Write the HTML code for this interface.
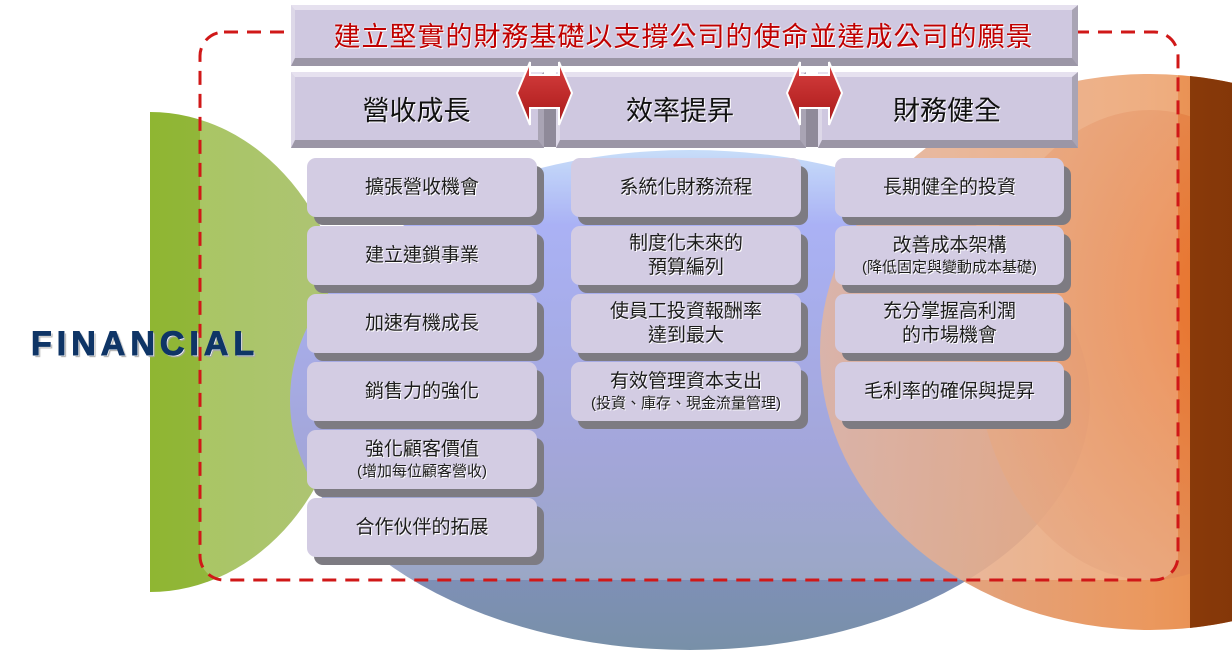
<!DOCTYPE html>
<html><head><meta charset="utf-8"><style>
html,body{margin:0;padding:0;width:1232px;height:654px;overflow:hidden;background:#fff}
body{position:relative;font-family:"Liberation Sans","Noto Sans CJK TC",sans-serif}
.bx{position:absolute;box-sizing:border-box;background:#d3cce3;border-radius:9px;box-shadow:7px 8px 0 #7d7b82;display:flex;flex-direction:column;align-items:center;justify-content:center;text-align:center;color:#1c1c1c;font-size:19px;line-height:24px;text-shadow:1px 1px 0 #fff}
.bx small{font-size:15px;line-height:19px}
.hd{position:absolute;box-sizing:border-box;background:#cfc8e0;border-top:5px solid #e6e1ef;border-bottom:8px solid #9b96a6;border-right:6px solid #a9a4b4;border-left:4px solid #ddd8e8;display:flex;align-items:center;justify-content:center;font-size:27px;color:#111;text-shadow:1px 1px 0 #fff}
</style></head><body>
<svg width="1232" height="654" style="position:absolute;left:0;top:0">
<defs>
<linearGradient id="g" x1="0" x2="1"><stop offset="0" stop-color="#86b814"/><stop offset="1" stop-color="#98b450"/></linearGradient>
<linearGradient id="b" x1="0" y1="0" x2="0" y2="1"><stop offset="0" stop-color="#b8d4f8"/><stop offset="0.15" stop-color="#929cf2"/><stop offset="0.6" stop-color="#8a8ed0"/><stop offset="1" stop-color="#7890a8"/></linearGradient>
<linearGradient id="o" x1="0" x2="1"><stop offset="0" stop-color="#d8a088"/><stop offset="0.5" stop-color="#e88a48"/><stop offset="0.8" stop-color="#e06a14"/><stop offset="1" stop-color="#8a3a08"/></linearGradient>
<radialGradient id="oi" cx="0.7" cy="0.4" r="0.7"><stop offset="0" stop-color="#e8661a"/><stop offset="1" stop-color="#e09060"/></radialGradient>
<linearGradient id="br" x1="0" x2="1"><stop offset="0" stop-color="#b05010"/><stop offset="1" stop-color="#6a2804"/></linearGradient>
<linearGradient id="a" x1="0" y1="0" x2="0" y2="1"><stop offset="0" stop-color="#d84040"/><stop offset="1" stop-color="#a81818"/></linearGradient>
<clipPath id="cl"><rect x="150" y="0" width="400" height="654"/></clipPath>
<clipPath id="cr"><rect x="1190" y="0" width="60" height="654"/></clipPath>
</defs>
<ellipse cx="150" cy="352" rx="200" ry="240" fill="url(#g)" clip-path="url(#cl)"/>
<ellipse cx="690" cy="400" rx="400" ry="250" fill="url(#b)"/>
<ellipse cx="1150" cy="352" rx="330" ry="278" fill="url(#o)" opacity="0.88"/>
<ellipse cx="1150" cy="345" rx="175" ry="235" fill="url(#oi)" opacity="0.7"/>
<ellipse cx="1150" cy="352" rx="330" ry="278" fill="url(#br)" clip-path="url(#cr)"/>
<rect x="200" y="32" width="978" height="548" rx="24" fill="#fff" opacity="0.22"/>
<rect x="200" y="32" width="978" height="548" rx="24" fill="none" stroke="#d01818" stroke-width="3" stroke-dasharray="14,9"/>
<rect x="544" y="100" width="12" height="47" fill="#8f8a99"/>
<rect x="806" y="100" width="12" height="47" fill="#8f8a99"/>
</svg>
<div class="hd" style="left:291px;top:5px;width:787px;height:61px;font-size:27px;color:#c00000;text-shadow:0 0 2px #fff,1px 1px 0 #fff;letter-spacing:1px">建立堅實的財務基礎以支撐公司的使命並達成公司的願景</div>
<div class="hd" style="left:291px;top:72px;width:253px;height:76px">營收成長</div>
<div class="hd" style="left:556px;top:72px;width:250px;height:76px">效率提昇</div>
<div class="hd" style="left:818px;top:72px;width:260px;height:76px">財務健全</div>
<svg width="1232" height="654" style="position:absolute;left:0;top:0">
<polygon points="517,93 530,62 530,75 559,75 559,62 572,93 559,125 559,108 530,108 530,125" fill="url(#a)" stroke="#fff" stroke-width="2"/>
<polygon points="787,93 800,62 800,75 829,75 829,62 842,93 829,125 829,108 800,108 800,125" fill="url(#a)" stroke="#fff" stroke-width="2"/>
</svg>
<div style="position:absolute;left:31px;top:325px;font-size:34px;font-weight:bold;color:#0f3566;letter-spacing:5px;-webkit-text-stroke:1px #0f3566;text-shadow:1px 1px 0 #fff,2px 2px 1px #aaa">FINANCIAL</div>

<div class="bx" style="left:307px;top:158px;width:230px;height:59px">擴張營收機會</div>
<div class="bx" style="left:307px;top:226px;width:230px;height:59px">建立連鎖事業</div>
<div class="bx" style="left:307px;top:294px;width:230px;height:59px">加速有機成長</div>
<div class="bx" style="left:307px;top:362px;width:230px;height:59px">銷售力的強化</div>
<div class="bx" style="left:307px;top:430px;width:230px;height:59px">強化顧客價值<small>(增加每位顧客營收)</small></div>
<div class="bx" style="left:307px;top:498px;width:230px;height:59px">合作伙伴的拓展</div>

<div class="bx" style="left:571px;top:158px;width:230px;height:59px">系統化財務流程</div>
<div class="bx" style="left:571px;top:226px;width:230px;height:59px">制度化未來的<br>預算編列</div>
<div class="bx" style="left:571px;top:294px;width:230px;height:59px">使員工投資報酬率<br>達到最大</div>
<div class="bx" style="left:571px;top:362px;width:230px;height:59px">有效管理資本支出<small>(投資、庫存、現金流量管理)</small></div>

<div class="bx" style="left:835px;top:158px;width:229px;height:59px">長期健全的投資</div>
<div class="bx" style="left:835px;top:226px;width:229px;height:59px">改善成本架構<small>(降低固定與變動成本基礎)</small></div>
<div class="bx" style="left:835px;top:294px;width:229px;height:59px">充分掌握高利潤<br>的市場機會</div>
<div class="bx" style="left:835px;top:362px;width:229px;height:59px">毛利率的確保與提昇</div>
</body></html>
